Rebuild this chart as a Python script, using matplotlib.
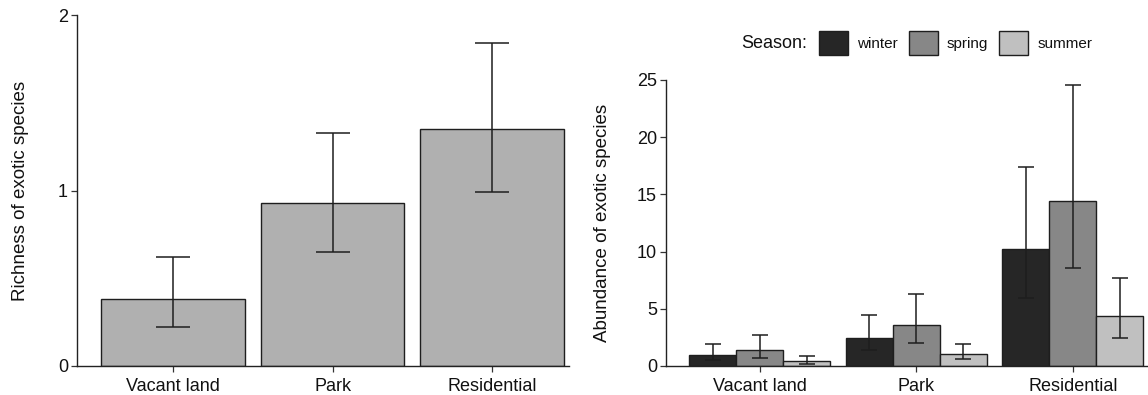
import numpy as np
import matplotlib
matplotlib.use('Agg')
import matplotlib.pyplot as plt
from matplotlib.patches import Patch

plt.rcParams['font.family'] = ['Liberation Sans', 'DejaVu Sans']

# data
land_use = ['Vacant land', 'Park', 'Residential']

richness = [0.38, 0.93, 1.35]
richness_low = [0.22, 0.65, 0.99]
richness_high = [0.62, 1.33, 1.84]

seasons = ['winter', 'spring', 'summer']
abundance = {
    'winter': [0.96, 2.48, 10.2],
    'spring': [1.40, 3.55, 14.4],
    'summer': [0.44, 1.05, 4.40],
}
abundance_low = {
    'winter': [0.52, 1.40, 5.94],
    'spring': [0.73, 2.04, 8.57],
    'summer': [0.17, 0.64, 2.48],
}
abundance_high = {
    'winter': [1.95, 4.46, 17.4],
    'spring': [2.70, 6.30, 24.6],
    'summer': [0.85, 1.92, 7.70],
}

season_colors = {'winter': '#262626', 'spring': '#878787', 'summer': '#c0c0c0'}
edge = '#1e1e1e'
text_col = '#111111'


def style_axes(ax):
    for side in ['top', 'right']:
        ax.spines[side].set_visible(False)
    for side in ['left', 'bottom']:
        ax.spines[side].set_color('#222222')
        ax.spines[side].set_linewidth(1.0)
    ax.tick_params(axis='both', length=4, width=0.9, color='#333333',
                   labelsize=13, labelcolor=text_col, pad=2.5)
    ax.tick_params(axis='x', pad=4.5)


fig = plt.figure(figsize=(11.48, 3.95), dpi=100)

# left panel: richness
ax1 = fig.add_axes([77 / 1148, 29 / 395, 492 / 1148, 351 / 395])
x = np.arange(len(land_use))
ax1.bar(x, richness, width=0.9, color='#b0b0b0', edgecolor=edge,
        linewidth=1.0, zorder=2)
r = np.array(richness)
ax1.errorbar(x, r,
             yerr=[r - np.array(richness_low), np.array(richness_high) - r],
             fmt='none', ecolor=edge, elinewidth=1.1, capsize=12.5,
             capthick=1.1, zorder=3)
ax1.set_xlim(-0.6, 2.48)
ax1.set_ylim(0, 2)
ax1.set_yticks([0, 1, 2])
ax1.set_xticks(x)
ax1.set_xticklabels(land_use)
ax1.set_ylabel('Richness of exotic species', fontsize=13.5, color=text_col)
ax1.yaxis.set_label_coords(-0.098, 0.5)
style_axes(ax1)

# right panel: abundance by season
ax2 = fig.add_axes([666 / 1148, 29 / 395, 482 / 1148, 286 / 395])
bw = 0.3
for i, s in enumerate(seasons):
    xs = x + (i - 1) * bw
    v = np.array(abundance[s])
    ax2.bar(xs, v, width=bw, color=season_colors[s], edgecolor=edge,
            linewidth=1.0, zorder=2)
    ax2.errorbar(xs, v,
                 yerr=[v - np.array(abundance_low[s]),
                       np.array(abundance_high[s]) - v],
                 fmt='none', ecolor=edge, elinewidth=1.1, capsize=5.5,
                 capthick=1.1, zorder=3)
ax2.set_xlim(-0.6, 2.48)
ax2.set_ylim(0, 25)
ax2.set_yticks([0, 5, 10, 15, 20, 25])
ax2.set_xticks(x)
ax2.set_xticklabels(land_use)
ax2.set_ylabel('Abundance of exotic species', fontsize=13.5, color=text_col)
ax2.yaxis.set_label_coords(-0.114, 0.5)
style_axes(ax2)

# legend on top
fig.text(741 / 1148, 1 - 43 / 395, 'Season:', fontsize=13, color=text_col,
         ha='left', va='center')
handles = [Patch(facecolor=season_colors[s], edgecolor=edge, linewidth=1.0)
           for s in seasons]
fig.legend(handles, seasons, loc='center left',
           bbox_to_anchor=(819 / 1148, 1 - 43 / 395), ncol=3, frameon=False,
           fontsize=11, handlelength=1.9, handleheight=2.0,
           handletextpad=0.6, columnspacing=0.7, borderpad=0,
           borderaxespad=0, labelcolor=text_col)

fig.savefig('out.png', dpi=100)
